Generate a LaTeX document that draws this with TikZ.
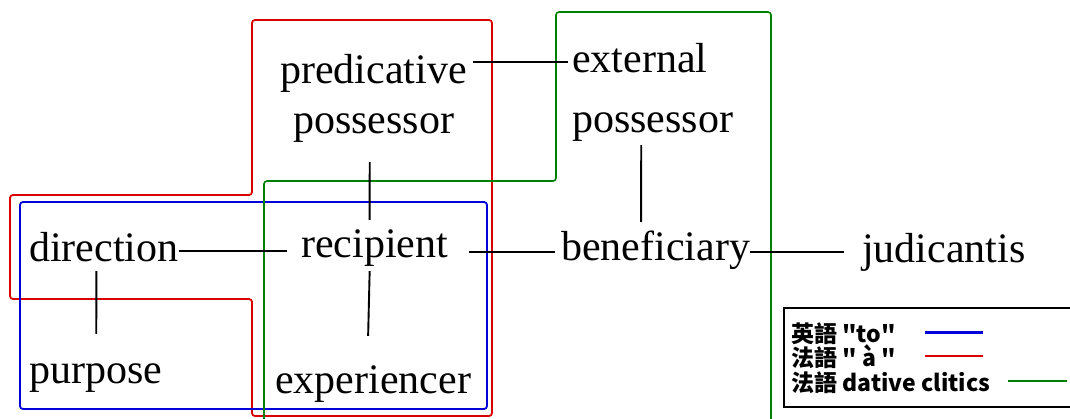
\documentclass[tikz,border=0pt]{standalone}
\usepackage{fontspec}
\setmainfont{Liberation Serif}
\newfontfamily\cjk{Noto Sans CJK SC}
\begin{document}
\begin{tikzpicture}[x=1pt,y=-1pt,
  word/.style={inner sep=0pt,anchor=base west,text height=29pt,text depth=9pt,
    font=\fontsize{42}{48}\selectfont},
  link/.style={black,line width=1.9pt},
  legtext/.style={inner sep=0pt,anchor=base west,font=\cjk\bfseries\fontsize{23}{24}\selectfont},
  redline/.style={draw=red!85!black,line width=1.8pt,rounded corners=3pt},
  blueline/.style={draw=blue!85!black,line width=1.8pt,rounded corners=3pt},
  greenline/.style={draw=green!50!black,line width=1.6pt,rounded corners=3pt}]
\useasboundingbox (0,0) rectangle (1070,418);
\clip (0,0) rectangle (1070,418);

% group outlines
\draw[redline] (252,20) -- (492,20) -- (492,416) -- (252,416) -- (252,299)
  -- (10,299) -- (10,195) -- (252,195) -- cycle;
\draw[blueline] (20,202) rectangle (487,409);
\draw[greenline] (264,430) -- (264,181) -- (556,181) -- (556,12) -- (771,12) -- (771,430);

% semantic roles
\node[word] (pred)  at (280,83)  {predicative};
\node[word] (pposs) at (293,133) {possessor};
\node[word] (ext)   at (572,72)  {external};
\node[word] (eposs) at (572,132) {possessor};
\node[word] (dir)   at (29,261)  {direction};
\node[word] (recip) at (301,257) {recipient};
\node[word] (benef) at (561,260) {beneficiary};
\node[word] (jud)   at (862,262) {judicantis};
\node[word] (purp)  at (29,383)  {purpose};
\node[word] (exper) at (275,393) {experiencer};

% connections between roles
\draw[link] ([xshift=6pt]pred.east |- ext.west) -- ([xshift=-4pt]ext.west);
\draw[link] ([xshift=-4pt,yshift=-20pt]pposs.south) -- ([xshift=-5pt,yshift=8pt]recip.north);
\draw[link] ([xshift=0pt]dir.east) -- ([xshift=-14pt]recip.west |- dir.east);
\draw[link] ([xshift=-7.5pt,yshift=-1pt]dir.south) -- ([xshift=0.6pt,yshift=20pt]purp.north);
\draw[link] ([xshift=-5pt,yshift=-5pt]recip.south) -- ([xshift=-5pt,yshift=28pt]exper.north);
\draw[link] ([xshift=21pt]recip.east |- jud.west) -- ([xshift=-6pt]benef.west |- jud.west);
\draw[link] ([xshift=-11.5pt,yshift=-4pt]eposs.south) -- ([xshift=-14.5pt,yshift=9pt]benef.north);
\draw[link] ([xshift=0pt]benef.east |- jud.west) -- ([xshift=-18pt]jud.west);

% legend
\draw[black,line width=2.4pt] (784,308) rectangle (1085,407);
\node[legtext] (leg1) at (791,342) {英語 "to"};
\node[legtext] (leg2) at (791,366) {法語 " à "};
\node[legtext] (leg3) at (791,391) {法語 dative clitics};
\draw[draw=blue!85!black,line width=3pt] (925,332) -- (983,332);
\draw[draw=red!85!black,line width=2pt] (925,356) -- (983,356);
\draw[draw=green!50!black,line width=2pt] (1008,381) -- (1067,381);
\end{tikzpicture}
\end{document}
